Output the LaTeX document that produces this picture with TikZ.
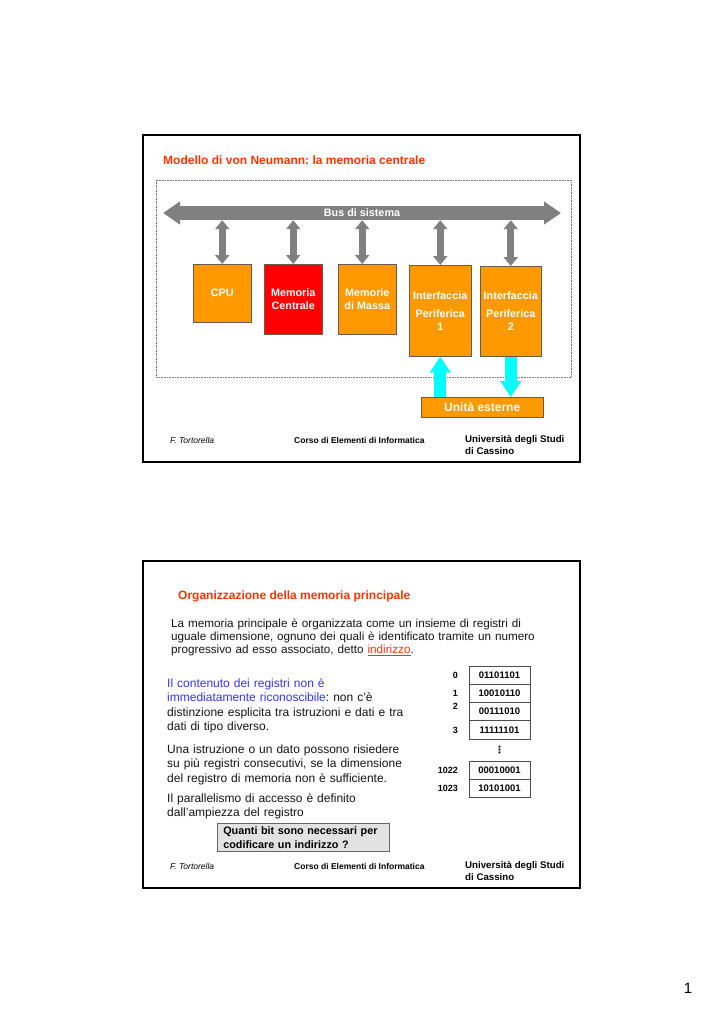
\documentclass[tikz,border=0pt]{standalone}
\usepackage{fontspec}
\setmainfont{Liberation Sans}
\newfontfamily\dotsfont{DejaVu Sans}
\usetikzlibrary{arrows.meta,positioning,calc}
\definecolor{vnorange}{RGB}{255,153,0}
\definecolor{vnred}{RGB}{255,0,0}
\definecolor{vntitle}{RGB}{255,51,0}
\definecolor{vnblue}{RGB}{51,51,255}
\definecolor{vncyan}{RGB}{0,255,255}
\definecolor{vnbus}{RGB}{128,128,128}
\definecolor{vnedge}{RGB}{110,90,70}
\definecolor{vnq}{RGB}{226,226,226}
\definecolor{vnink}{RGB}{20,20,20}
\tikzset{
  frame/.style={draw=black, line width=1.3pt},
  zone/.style={draw=black!55, densely dotted, line width=0.6pt},
  unit/.style={
    draw=vnedge, line width=0.5pt, fill=vnorange, text=white,
    font=\fontsize{10.8}{13}\selectfont\bfseries, align=center,
    anchor=north west, inner sep=0pt
  },
  mainmem/.style={unit, fill=vnred},
  outer/.style={unit, font=\fontsize{12}{14}\selectfont\bfseries},
  busline/.style={
    draw=vnbus, line width=14pt,
    {Triangle[length=17pt,width=22pt]}-{Triangle[length=17pt,width=22pt]}
  },
  buslbl/.style={text=white, font=\fontsize{10.8}{13}\selectfont\bfseries,
    inner sep=0pt, minimum height=14pt},
  link/.style={
    draw=vnbus, line width=7pt,
    {Triangle[length=9pt,width=14pt]}-{Triangle[length=9pt,width=14pt]}
  },
  ioarr/.style={draw=vncyan, line width=12pt, -{Triangle[length=16pt,width=20pt]}},
  slidetitle/.style={text=vntitle, font=\fontsize{12}{14}\selectfont\bfseries,
    anchor=base west, inner sep=0pt},
  bodytxt/.style={text=vnink, font=\fontsize{11.7}{13.4}\selectfont, anchor=base west,
    inner sep=0pt, align=left, text width=380pt},
  sidetxt/.style={bodytxt, font=\fontsize{12}{14.6}\selectfont, text width=250pt},
  quest/.style={
    draw=black!60, fill=vnq, line width=0.6pt, align=left,
    font=\fontsize{10.8}{14}\selectfont\bfseries, text width=160pt,
    inner xsep=6pt, inner ysep=3pt, anchor=north west
  },
  cell/.style={draw=black!70, line width=0.6pt, outer sep=0pt, minimum width=61pt,
    minimum height=18.3pt, inner sep=0pt, font=\fontsize{9.5}{11}\selectfont\bfseries},
  addr/.style={font=\fontsize{9}{11}\selectfont\bfseries, inner sep=0pt},
  author/.style={font=\fontsize{8.5}{10}\selectfont\itshape, anchor=west, inner sep=0pt},
  course/.style={font=\fontsize{8.5}{10}\selectfont\bfseries, anchor=west, inner sep=0pt},
  uni/.style={font=\fontsize{9.7}{12}\selectfont\bfseries, anchor=west, inner sep=0pt,
    align=left}
}
\begin{document}
\frenchspacing
\begin{tikzpicture}[x=1pt, y=-1pt, node distance=0pt]
  \useasboundingbox (0,0) rectangle (724,1024);

  % slide 1: von Neumann
  \draw[frame] (143,135) rectangle (580,462);
  \node[slidetitle] (title1) at (163,165) {Modello di von Neumann: la memoria centrale};
  \draw[zone] (156,180) rectangle (571,377);

  \coordinate (busw) at (163,213);
  \coordinate (buse) at (561,213);
  \draw[busline] (busw) -- (buse);
  \node[buslbl] (bus) at ($(busw)!.5!(buse)$) {Bus di sistema};

  \node[unit, minimum width=58pt, minimum height=58pt] (cpu) at (193,264) {CPU};
  \node[mainmem, minimum width=58pt, minimum height=70pt] (mem) at (264,264) {Memoria\\Centrale};
  \node[unit, minimum width=58pt, minimum height=70pt] (massa) at (338,264) {Memorie\\di Massa};
  \node[unit, minimum width=62pt, minimum height=91pt] (if1) at (409,265)
    {Interfaccia\\[5pt]Periferica\\1};
  \node[unit, minimum width=61pt, minimum height=90pt] (if2) at (480,266)
    {Interfaccia\\[5pt]Periferica\\2};
  \node[outer, minimum width=122pt, minimum height=20pt] (est) at (421,397) {Unità esterne};

  \draw[link] (cpu.north |- bus.south) -- (cpu.north);
  \draw[link] (mem.north |- bus.south) -- (mem.north);
  \draw[link] ([xshift=-5pt]massa.north |- bus.south) -- ([xshift=-5pt]massa.north);
  \draw[link] (if1.north |- bus.south) -- (if1.north);
  \draw[link] (if2.north |- bus.south) -- (if2.north);

  \draw[ioarr] (if1.south |- est.north) -- (if1.south);
  \draw[ioarr] (if2.south) -- (if2.south |- est.north);

  \node[author] (auth1) at (170,440) {F. Tortorella};
  \node[course] (corso1) at (294,440) {Corso di Elementi di Informatica};
  \node[uni] (uni1) at (465,445) {Università degli Studi\\di Cassino};

  % slide 2: memoria principale
  \draw[frame] (143,561) rectangle (580,888);
  \node[slidetitle] (title2) at (178,599.5) {Organizzazione della memoria principale};
  \node[bodytxt] (intro) at (171,627)
    {La memoria principale è organizzata come un insieme di registri di\\
     uguale dimensione, ognuno dei quali è identificato tramite un numero\\
     progressivo ad esso associato, detto \textcolor{vntitle}{\underline{indirizzo}}.};
  \node[sidetxt] (para1) at (167,687)
    {{\color{vnblue}Il contenuto dei registri non è\\
     immediatamente riconoscibile}: non c'è\\
     distinzione esplicita tra istruzioni e dati e tra\\
     dati di tipo diverso.};
  \node[sidetxt] (para2) at (167,753)
    {Una istruzione o un dato possono risiedere\\
     su più registri consecutivi, se la dimensione\\
     del registro di memoria non è sufficiente.};
  \node[sidetxt] (para3) at (167,802)
    {Il parallelismo di accesso è definito\\
     dall'ampiezza del registro};
  \node[quest] (ask) at (217,823) {Quanti bit sono necessari per\\codificare un indirizzo ?};

  \node[cell] (r0) at (499.5,675) {01101101};
  \node[cell, below=of r0] (r1) {10010110};
  \node[cell, below=of r1] (r2) {00111010};
  \node[cell, below=of r2] (r3) {11111101};
  \node[font=\fontsize{10}{10}\dotsfont\bfseries, inner sep=0pt] (gap) at (499.5,750) {⋮};
  \node[cell] (r1022) at (499.5,770) {00010001};
  \node[cell, below=of r1022] (r1023) {10101001};
  \node[addr, left=11pt of r0] (a0) {0};
  \node[addr, left=11pt of r1] (a1) {1};
  \node[addr, left=11pt of r2, yshift=5pt] (a2) {2};
  \node[addr, left=11pt of r3] (a3) {3};
  \node[addr, left=11pt of r1022] (a1022) {1022};
  \node[addr, left=11pt of r1023] (a1023) {1023};

  \node[author] (auth2) at (170,866) {F. Tortorella};
  \node[course] (corso2) at (294,866) {Corso di Elementi di Informatica};
  \node[uni] (uni2) at (465,870.5) {Università degli Studi\\di Cassino};

  \node[font=\fontsize{15}{15}\selectfont, inner sep=0pt] (pagenum) at (688,988) {1};
\end{tikzpicture}
\end{document}
